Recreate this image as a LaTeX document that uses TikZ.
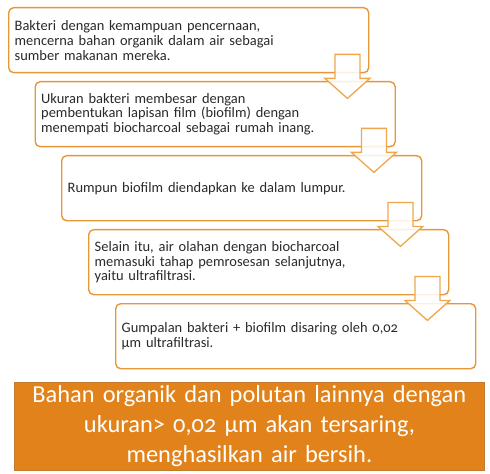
\documentclass[tikz,border=0pt]{standalone}
\usepackage{fontspec}
\setmainfont{Carlito}[Numbers=OldStyle]
\definecolor{boxline}{HTML}{E8963A}
\definecolor{arrline}{HTML}{F0A64A}
\definecolor{resfill}{HTML}{E2821A}
\definecolor{resline}{HTML}{C27A30}
\definecolor{txt}{HTML}{2A2A2A}

\begin{document}
\begin{tikzpicture}
      [x=1bp, y=-1bp,
      stepbox/.style={draw=boxline, line width=1.4bp, rounded corners=5bp, fill=white,
        anchor=north west, minimum width=360bp, minimum height=65bp,
        text width=348bp, inner xsep=6bp, align=left, text=txt,
        font=\fontsize{14.5}{15}\selectfont},
      arrowline/.style={draw=arrline, line width=1.3bp, fill=white, fill opacity=0.85,
        line join=miter},
      resultbox/.style={draw=resline, line width=0.8bp, fill=resfill, anchor=north west,
        minimum width=470bp, minimum height=87bp, text width=460bp, align=center,
        text=white, font=\fontsize{24.5}{30}\selectfont}]
      \useasboundingbox (0,0) rectangle (490,474);
      % steps
      \node[stepbox] (b1) at (8,7) {Bakteri dengan kemampuan pencernaan,\\
        mencerna bahan organik dalam air sebagai\\ sumber makanan mereka.};
      \node[stepbox] (b2) at (34.5,81) {Ukuran bakteri membesar dengan\\
        pembentukan lapisan film (biofilm) dengan\\ menempati biocharcoal sebagai rumah inang.};
      \node[stepbox] (b3) at (61,155) {Rumpun biofilm diendapkan ke dalam lumpur.};
      \node[stepbox] (b4) at (88,229) {Selain itu, air olahan dengan biocharcoal\\
        memasuki tahap pemrosesan selanjutnya,\\ yaitu ultrafiltrasi.};
      \node[stepbox] (b5) at (115,303) {Gumpalan bakteri + biofilm disaring oleh 0,02\\
        µm ultrafiltrasi.};
      % arrows
      \foreach \i in {1,...,4}
        \draw[arrowline] ([shift={(-34.5,-19)}]b\i.south east) -- ++(25,0) -- ++(0,24)
          -- ++(10,0) -- ++(-22.5,20) -- ++(-22.5,-20) -- ++(10,0) -- cycle;
      % result
      \node[resultbox] (res) at (14,382) {Bahan organik dan polutan lainnya dengan\\
        ukuran> 0,02 µm akan tersaring,\\ menghasilkan air bersih.};
\end{tikzpicture}
\end{document}
